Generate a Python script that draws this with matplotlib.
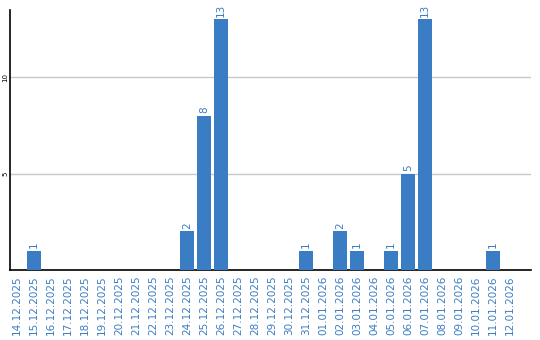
import matplotlib
matplotlib.use("Agg")
from matplotlib import pyplot as plt

dates = ["14.12.2025", "15.12.2025", "16.12.2025", "17.12.2025", "18.12.2025",
         "19.12.2025", "20.12.2025", "21.12.2025", "22.12.2025", "23.12.2025",
         "24.12.2025", "25.12.2025", "26.12.2025", "27.12.2025", "28.12.2025",
         "29.12.2025", "30.12.2025", "31.12.2025", "01.01.2026", "02.01.2026",
         "03.01.2026", "04.01.2026", "05.01.2026", "06.01.2026", "07.01.2026",
         "08.01.2026", "09.01.2026", "10.01.2026", "11.01.2026", "12.01.2026"]
counts = [0, 1, 0, 0, 0, 0, 0, 0, 0, 0,
          2, 8, 13, 0, 0, 0, 0, 1, 0, 2,
          1, 0, 1, 5, 13, 0, 0, 0, 1, 0]
yticks = [5, 10]

blue = "#3b7dc4"

fig = plt.figure(figsize=(5.4, 3.4), dpi=100)
ax = fig.add_axes([10 / 540, 70 / 340, 521 / 540, 260 / 340])

x = list(range(len(dates)))
ax.bar(x, counts, width=0.82, color=blue, zorder=3)

# value labels above the non-empty bars
for xi, c in zip(x, counts):
    if c > 0:
        ax.annotate(str(c), (xi, c), xytext=(0, 2), textcoords="offset points",
                    rotation=90, ha="center", va="bottom", color=blue, fontsize=7.5)

ax.set_xlim(-0.41, 30.24)
ax.set_ylim(0, 13.49)
ax.set_xticks(x)
ax.set_xticklabels(dates, rotation=90, color=blue, fontsize=7.5)
ax.set_yticks(yticks)
ax.set_yticklabels([str(t) for t in yticks], rotation=90, va="center", fontsize=5)
ax.tick_params(axis="both", length=0)
ax.tick_params(axis="x", pad=4)
ax.tick_params(axis="y", pad=1)

ax.grid(axis="y", color="#c8c8c8", linewidth=1, zorder=0)
for s in ["top", "right"]:
    ax.spines[s].set_visible(False)
ax.spines["left"].set_linewidth(1.2)
ax.spines["bottom"].set_linewidth(1.2)

fig.savefig("out.png", dpi=100)
